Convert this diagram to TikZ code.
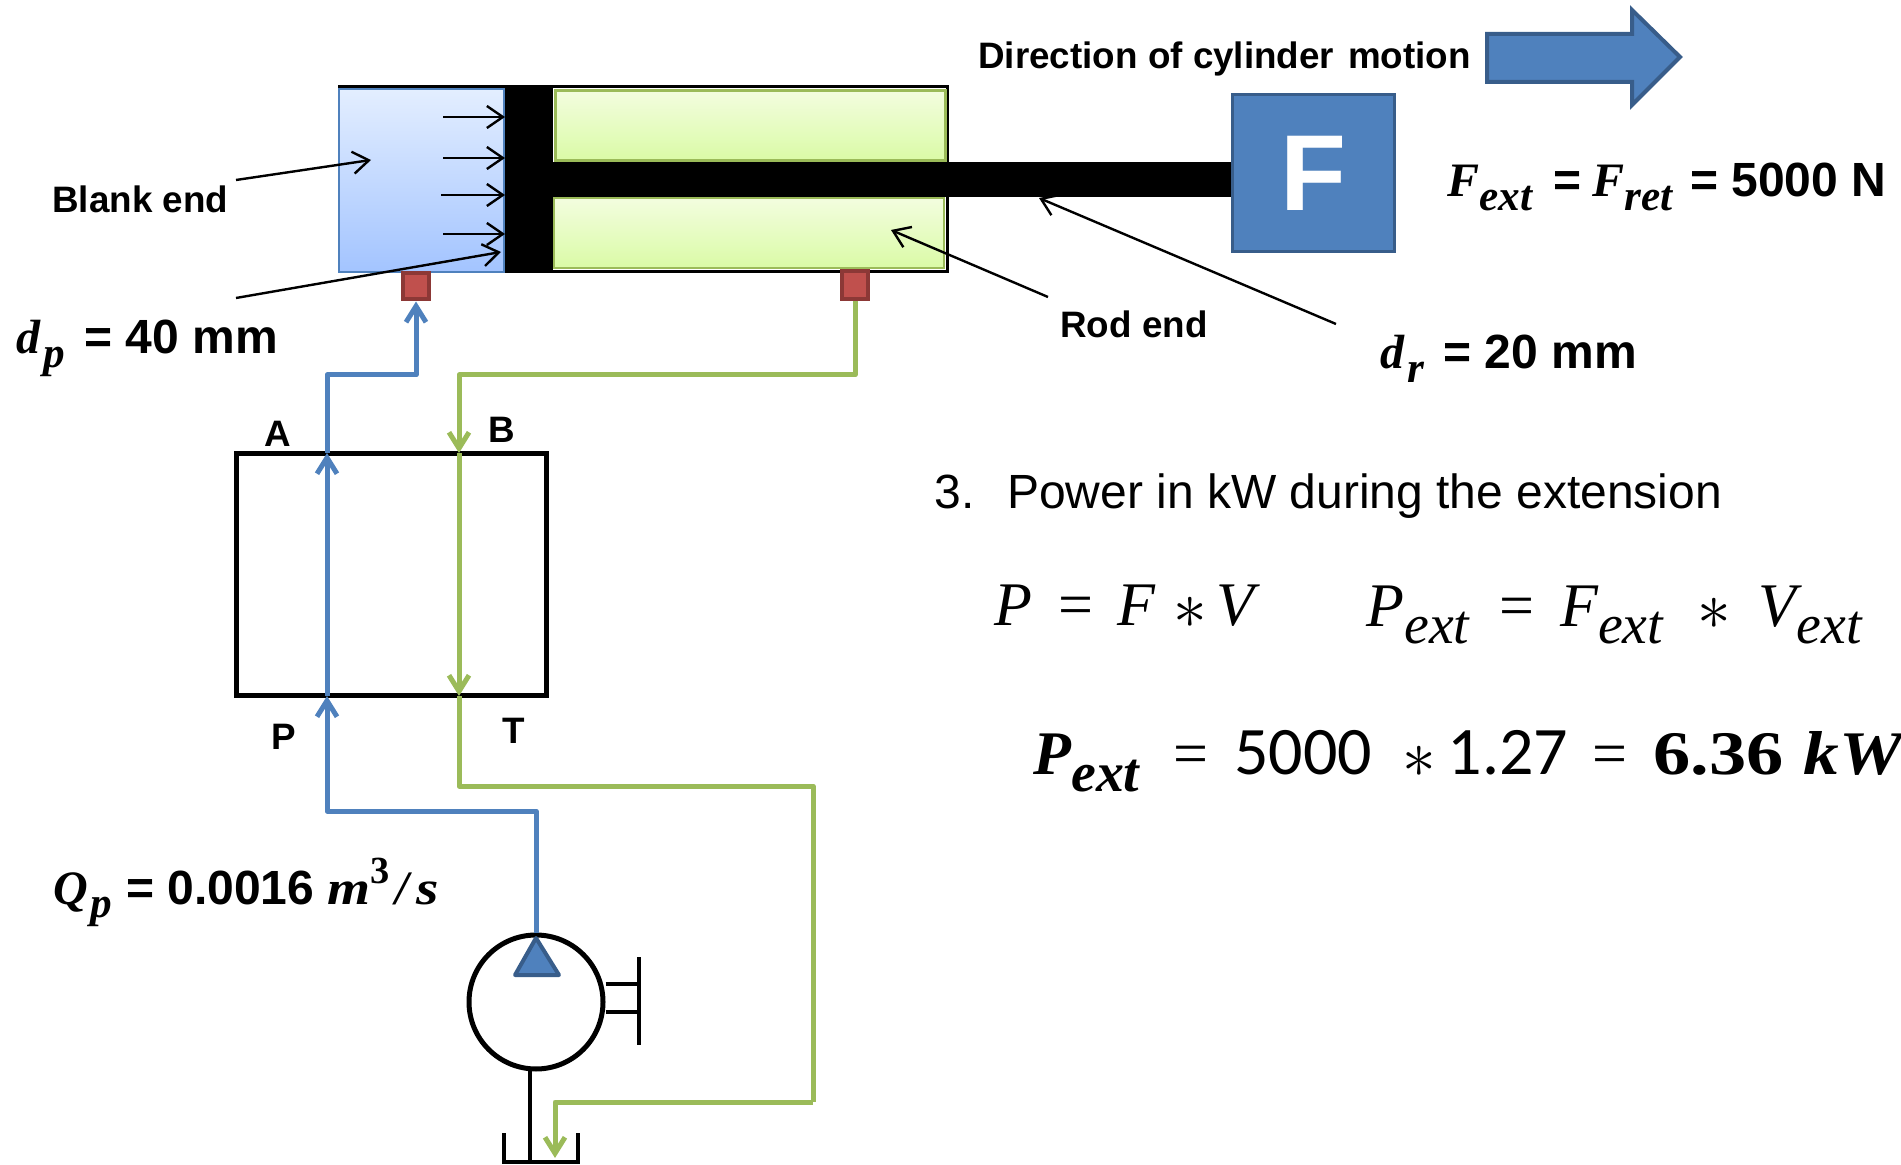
\documentclass[tikz,border=0pt]{standalone}
\usepackage[no-math]{fontspec}
\setmainfont{Liberation Sans}
\newfontfamily\eqfont{Liberation Serif}
\newfontfamily\numfont{Carlito}
\usetikzlibrary{arrows.meta}
\newcommand{\lowtxt}[1]{\raisebox{-.28em}{\scalebox{.9}{#1}}}
\newcommand{\mv}[1]{{\eqfont\itshape #1}}
\newcommand{\opstar}{\raisebox{-.06em}{\scalebox{1.35}{$*$}}}
\definecolor{linkblue}{HTML}{4F81BD}
\definecolor{linkdark}{HTML}{385D8A}
\definecolor{linkgreen}{HTML}{9BBB59}
\definecolor{portred}{HTML}{C0504D}
\definecolor{portdark}{HTML}{8C3836}
\definecolor{blanktop}{HTML}{E3EEFF}
\definecolor{blankbot}{HTML}{A3C4FF}
\definecolor{rodtopc}{HTML}{F3FDDF}
\definecolor{rodbotc}{HTML}{DAFBA6}
\tikzset{
  label18/.style={anchor=base west,inner sep=0pt,font=\fontsize{18.4}{20}\selectfont\bfseries},
  label24/.style={anchor=base west,inner sep=0pt,font=\fontsize{24}{26}\selectfont\bfseries},
  eqn/.style={anchor=base west,inner sep=0pt,font=\fontsize{31}{34}\selectfont\eqfont},
  leader/.style={draw,line width=1.2pt,-{Straight Barb[length=8pt,width=11pt,line width=1.2pt]}},
  oilblue/.style={draw=linkblue,line width=2.5pt,line join=round},
  oilgreen/.style={draw=linkgreen,line width=2.5pt,line join=round},
  oilblueto/.style={oilblue,-{Straight Barb[length=8pt,width=10pt,line width=2.5pt]}},
  oilgreento/.style={oilgreen,-{Straight Barb[length=8pt,width=10pt,line width=2.5pt]}},
  solid part/.style={fill=black,draw=none,inner sep=0pt},
  blank chamber/.style={draw=linkblue,line width=1pt,top color=blanktop,bottom color=blankbot,inner sep=0pt,minimum width=82.5pt,minimum height=91.5pt},
  rod chamber/.style={draw=linkgreen,line width=1.2pt,top color=rodtopc,bottom color=rodbotc,inner sep=0pt,minimum width=195pt,minimum height=35pt},
  port/.style={fill=portred,draw=portdark,line width=2pt,inner sep=0pt,minimum width=13pt,minimum height=13pt},
  symbol/.style={draw,line width=2.2pt},
}
\begin{document}
\begin{tikzpicture}[x=0.5pt,y=-0.5pt]
    \useasboundingbox (0,0) rectangle (1901,1165);
    % Cylinder
    \node[draw,line width=1.5pt,inner sep=0pt,minimum width=304pt,minimum height=92.5pt] (body) at (643,179.5) {}; %
    \node[blank chamber] (blank) at (421.5,180.5) {}; %
    \node[rod chamber] (rodtop) at (750.5,125.5) {}; %
    \node[rod chamber] (rodbot) at (749,233) {}; %
    \node[solid part,minimum width=24pt,minimum height=93.5pt] (piston) at (529,179.5) {}; %
    \node[solid part,minimum width=339pt,minimum height=17.5pt] (rod) at (892,179.5) {}; %
    \node[port] (portA) at (416,286.5) {}; %
    \node[port,minimum height=14pt] (portB) at (855,285) {}; %
    % Load
    \node[fill=linkblue,draw=linkdark,line width=1.5pt,inner sep=0pt,minimum width=81pt,minimum height=78.5pt,text=white,font=\fontsize{54}{54}\selectfont\bfseries] (load) at (1313.5,173.5) {\raisebox{-3pt}{F}}; %
    \draw[fill=linkblue,draw=linkdark,line width=2pt] (1487,34) -- (1632,34) -- (1632,10) -- (1680,57) -- (1632,105) -- (1632,82) -- (1487,82) -- cycle;
    % Valve and pump
    \node[draw,line width=2.2pt,inner sep=0pt,minimum width=155pt,minimum height=121pt] (valve) at (391.5,574.5) {}; %
    \node[draw,circle,line width=2.5pt,inner sep=0pt,minimum size=67pt] (pump) at (536,1002) {}; %
    \draw[fill=linkblue,draw=linkdark,line width=2pt,line join=round] (536,938) -- (559,975) -- (515,975) -- cycle;
    \coordinate (shaftU) at (pump.east |- 0,984);
    \coordinate (shaftL) at (pump.east |- 0,1012);
    \coordinate (driveT) at (639,957);
    \coordinate (driveB) at (639,1045);
    \draw[symbol] (shaftU) -- (shaftU -| driveT);
    \draw[symbol] (shaftL) -- (shaftL -| driveT);
    \draw[symbol] (driveT) -- (driveB);
    \coordinate (stemT) at (530,1068);
    \coordinate (stemB) at (530,1162);
    \coordinate (tankL) at (504,1133);
    \coordinate (tankR) at (578,1133);
    \draw[symbol] (stemT) -- (stemB);
    \draw[symbol] (tankL) |- (stemB) -| (tankR);
    % Blue line
    \coordinate (valveP) at (327,696);
    \coordinate (valveA) at (327,453);
    \coordinate (bendP) at (327,811);
    \coordinate (bendA) at (327,375);
    \draw[oilblueto] (pump.north) |- (bendP) -- (valveP);
    \draw[oilblueto] (valveP) -- (valveA);
    \draw[oilblueto] (valveA) -- (bendA) -| (portA.south);
    % Green line
    \coordinate (valveB) at (459,453);
    \coordinate (valveT) at (459,696);
    \coordinate (bendB) at (459,375);
    \coordinate (bendT) at (459,786);
    \coordinate (bendR) at (813,786);
    \coordinate (bendD) at (813,1102);
    \coordinate (tankin) at (555,1158);
    \draw[oilgreento] (portB.south) |- (bendB) -- (valveB);
    \draw[oilgreento] (valveB) -- (valveT);
    \draw[oilgreen] (valveT) -- (bendT) -- (bendR) -- (bendD);
    \draw[oilgreento] (bendD) -| (tankin);
    % Force arrows
    \foreach \ya/\xa in {117/443,158/443,195/441,234/443}
      \coordinate (forcetail\ya) at (\xa,\ya);
    \foreach \ya in {117,158,195,234}
      \draw[leader] (forcetail\ya) -- (blank.east |- forcetail\ya);
    % Labels
    \node[label18] (direction) at (978,69) {Direction of cylinder\hspace{.1em} motion}; %
    \node[label18] (blanklabel) at (52,213) {Blank end}; %
    \node[label18] (rodlabel) at (1060,338) {Rod end}; %
    \node[label18] (portAlabel) at (264,447) {A}; %
    \node[label18] (portBlabel) at (488,443) {B}; %
    \node[label18] (portPlabel) at (271,749) {P}; %
    \node[label18] (portTlabel) at (502,743) {T}; %
    \node[label24] (dplabel) at (16,354) {\mv{d}\hspace{1.5pt}\lowtxt{\mv{p}}\hspace{3pt} = 40 mm}; %
    \node[label24] (drlabel) at (1380,369) {\mv{d}\hspace{1.5pt}\lowtxt{\mv{r}}\hspace{3pt} = 20 mm}; %
    \node[label24] (forcelabel) at (1447,197) {\mv{F}\lowtxt{\mv{ext}}\hspace{4pt} = \hspace{-1pt}\mv{F}\lowtxt{\mv{ret}}\hspace{2pt} = 5000 N}; %
    \node[label24] (flowlabel) at (53,904) {\mv{Q}\hspace{1pt}\lowtxt{\mv{p}}\hspace{.5pt} = 0.0016 \scalebox{1.15}[1]{\mv{m}}\raisebox{.42em}{\scalebox{.8}{\eqfont 3}}\hspace{3pt}\mv{/}\hspace{4pt}\scalebox{1.2}[1]{\mv{s}}}; %
    % Leaders
    \coordinate (blanktail) at (236,180);
    \coordinate (blanktip) at (371,160);
    \coordinate (dptail) at (236,298);
    \coordinate (dptip) at (501,252);
    \coordinate (rodendtail) at (1048,297);
    \coordinate (rodendtip) at (891,230);
    \coordinate (drtail) at (1336,324);
    \coordinate (drtip) at (1039,198);
    \draw[leader] (blanktail) -- (blanktip);
    \draw[leader] (dptail) -- (dptip);
    \draw[leader] (rodendtail) -- (rodendtip);
    \draw[leader] (drtail) -- (drtip);
    % Working
    \node[anchor=base west,inner sep=0pt,font=\fontsize{24}{26}\selectfont] (title) at (934,509) {3.\hspace{.68em}Power in kW during the extension}; %
    \node[eqn] (eqgeneral) at (994,625) {\mv{P}\hspace{13pt}=\hspace{12pt}\mv{F}\hspace{9pt}\opstar\hspace{5pt}\mv{V}}; %
    \node[eqn] (eqext) at (1366,626) {\mv{P}\lowtxt{\mv{ext}}\hspace{15pt}=\hspace{13pt}\mv{F}\lowtxt{\mv{ext}}\hspace{17pt}\opstar\hspace{14pt}\mv{V}\lowtxt{\mv{ext}}}; %
    \node[eqn] (eqresult) at (1033,774) {{\bfseries\itshape P}\lowtxt{\bfseries\itshape ext}\hspace{17pt}=\hspace{13pt}{\numfont\fontsize{34}{34}\selectfont 5000}\hspace{15pt}\opstar\hspace{6pt}{\numfont\fontsize{34}{34}\selectfont 1.27}\hspace{12pt}=\hspace{13pt}\scalebox{1.2}[1]{\bfseries 6.36}\hspace{10pt}\scalebox{1.15}[1]{\bfseries\itshape kW}}; %
\end{tikzpicture}
\end{document}
